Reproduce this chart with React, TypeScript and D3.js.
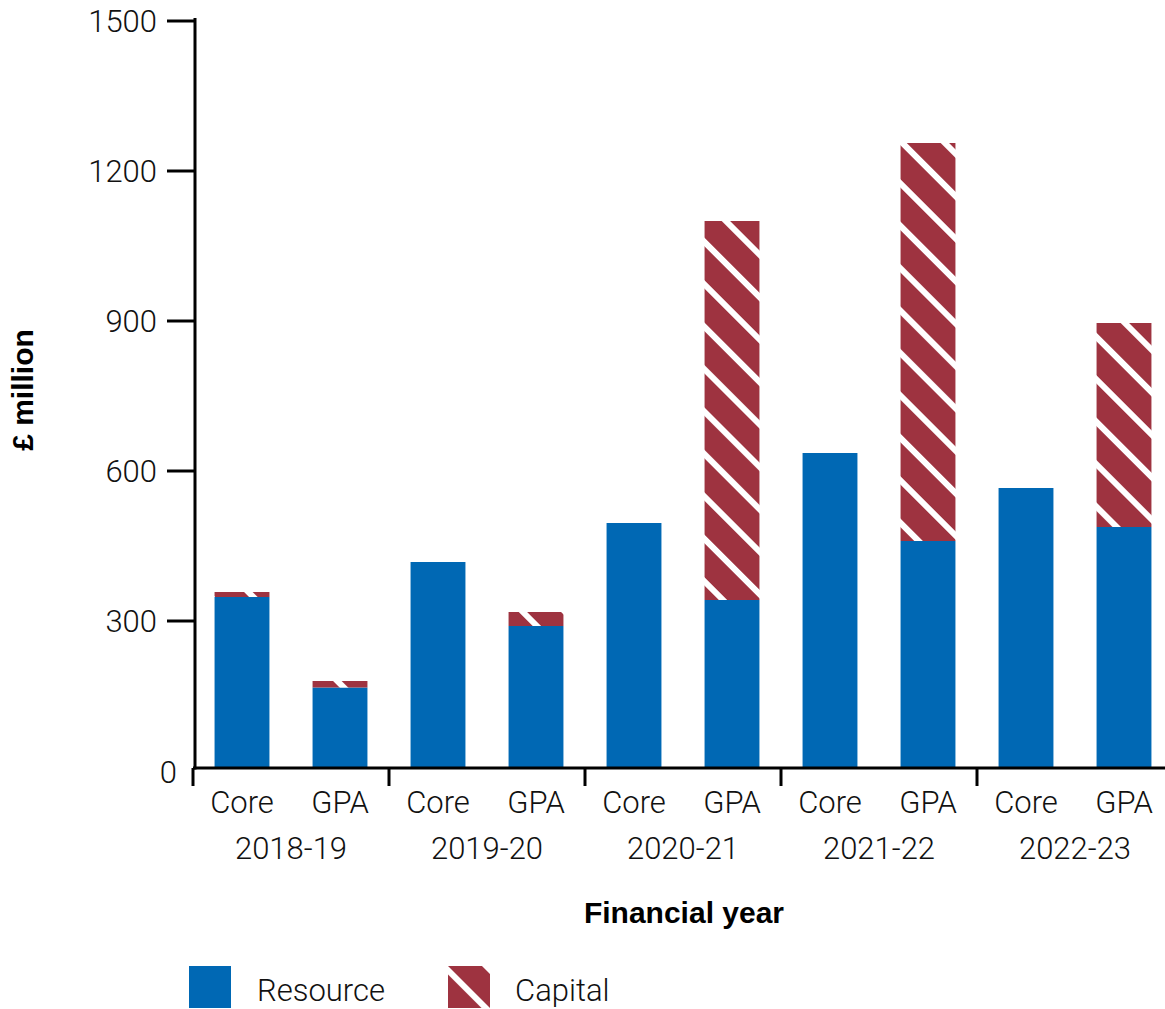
import React from "react";
import * as d3 from "d3";

const years = ["2018-19", "2019-20", "2020-21", "2021-22", "2022-23"];
const types = ["Core", "GPA"];
const resource = [348, 167, 418, 290, 496, 342, 636, 460, 566, 488];
const capital = [10, 13, 0, 28, 0, 758, 0, 796, 0, 408];
const yTicks = [0, 300, 600, 900, 1200, 1500];

const W = 1165;
const H = 1009;
const BLUE = "#0068B4";
const RED = "#9E3340";
const FONT = "Roboto, 'Liberation Sans', Arial, sans-serif";
const BOLD_FONT = "'Liberation Sans', Arial, sans-serif";
const FS = 31;

export default function App() {
  const bars = resource.map((r, i) => ({
    key: `${years[Math.floor(i / 2)]}-${types[i % 2]}`,
    year: years[Math.floor(i / 2)],
    type: types[i % 2],
    resource: r,
    capital: capital[i],
  }));

  const x0 = 193;
  const x1 = 1173;
  const yAxisX = 195;
  const axisY = 768;

  const y = d3.scaleLinear().domain([0, 1500]).range([771, 21]);
  const xBar = d3
    .scaleBand<string>()
    .domain(bars.map((b) => b.key))
    .range([x0, x1])
    .paddingInner(0.44)
    .paddingOuter(0.22);
  const xGroup = d3.scaleBand<string>().domain(years).range([x0, x1]);

  return (
    <svg width={W} height={H} style={{ position: "absolute", left: 0, top: 0 }} fontFamily={FONT} fontWeight={300}>
      <defs>
        <pattern
          id="hatch"
          patternUnits="userSpaceOnUse"
          width={30}
          height={30}
          patternTransform="rotate(45)"
        >
          <rect width={30} height={30} fill={RED} />
          <rect x={0} y={0} width={30} height={6} fill="#fff" />
        </pattern>
        <pattern
          id="hatchLegend"
          patternUnits="userSpaceOnUse"
          width={30}
          height={30}
          patternTransform="translate(448,966) rotate(45)"
        >
          <rect width={30} height={30} fill={RED} />
          <rect x={0} y={0} width={30} height={6} fill="#fff" />
        </pattern>
      </defs>
      <rect width={W} height={H} fill="#fff" />

      {bars.map((b) => {
        const bx = xBar(b.key)!;
        const bw = xBar.bandwidth();
        const yr = y(b.resource);
        const yc = y(b.resource + b.capital);
        return (
          <g key={b.key}>
            <rect x={bx} y={yr} width={bw} height={axisY - yr} fill={BLUE} />
            {b.capital > 0 && (
              <rect x={bx} y={yc} width={bw} height={yr - yc} fill="url(#hatch)" />
            )}
          </g>
        );
      })}

      {/* Y axis */}
      <line x1={yAxisX} x2={yAxisX} y1={18} y2={axisY + 1.5} stroke="#000" strokeWidth={3} />
      {yTicks
        .filter((t) => t > 0)
        .map((t) => (
          <line key={t} x1={167} x2={yAxisX} y1={y(t)} y2={y(t)} stroke="#000" strokeWidth={3} />
        ))}
      {yTicks.map((t) => (
        <text
          key={t}
          x={t === 0 ? 177 : 157}
          y={t === 0 ? axisY + 4 : y(t)}
          textAnchor="end"
          dominantBaseline="central"
          fontSize={FS}
          fill="#111"
        >
          {t}
        </text>
      ))}

      {/* X axis */}
      <line x1={x0} x2={W} y1={axisY} y2={axisY} stroke="#000" strokeWidth={3} />
      {years.map((yr) => (
        <line
          key={yr}
          x1={xGroup(yr)!}
          x2={xGroup(yr)!}
          y1={axisY}
          y2={786}
          stroke="#000"
          strokeWidth={3}
        />
      ))}
      {bars.map((b) => (
        <text
          key={b.key}
          x={xBar(b.key)! + xBar.bandwidth() / 2}
          y={813}
          textAnchor="middle"
          fontSize={FS}
          fill="#111"
        >
          {b.type}
        </text>
      ))}
      {years.map((yr) => (
        <text
          key={yr}
          x={xGroup(yr)! + xGroup.bandwidth() / 2}
          y={859}
          textAnchor="middle"
          fontSize={FS}
          fill="#111"
        >
          {yr}
        </text>
      ))}

      <text x={684} y={923} textAnchor="middle" fontSize={30} fontWeight="bold" fontFamily={BOLD_FONT} fill="#000">
        Financial year
      </text>
      <text
        transform="translate(33,390) rotate(-90)"
        textAnchor="middle"
        fontSize={30}
        fontWeight="bold"
        fontFamily={BOLD_FONT}
        fill="#000"
      >
        £ million
      </text>

      {/* Legend */}
      <rect x={189} y={966} width={42} height={42} fill={BLUE} />
      <text x={257} y={1001} fontSize={FS} fill="#111">
        Resource
      </text>
      <rect x={448} y={966} width={42} height={42} fill="url(#hatchLegend)" />
      <text x={515} y={1001} fontSize={FS} fill="#111">
        Capital
      </text>
    </svg>
  );
}
